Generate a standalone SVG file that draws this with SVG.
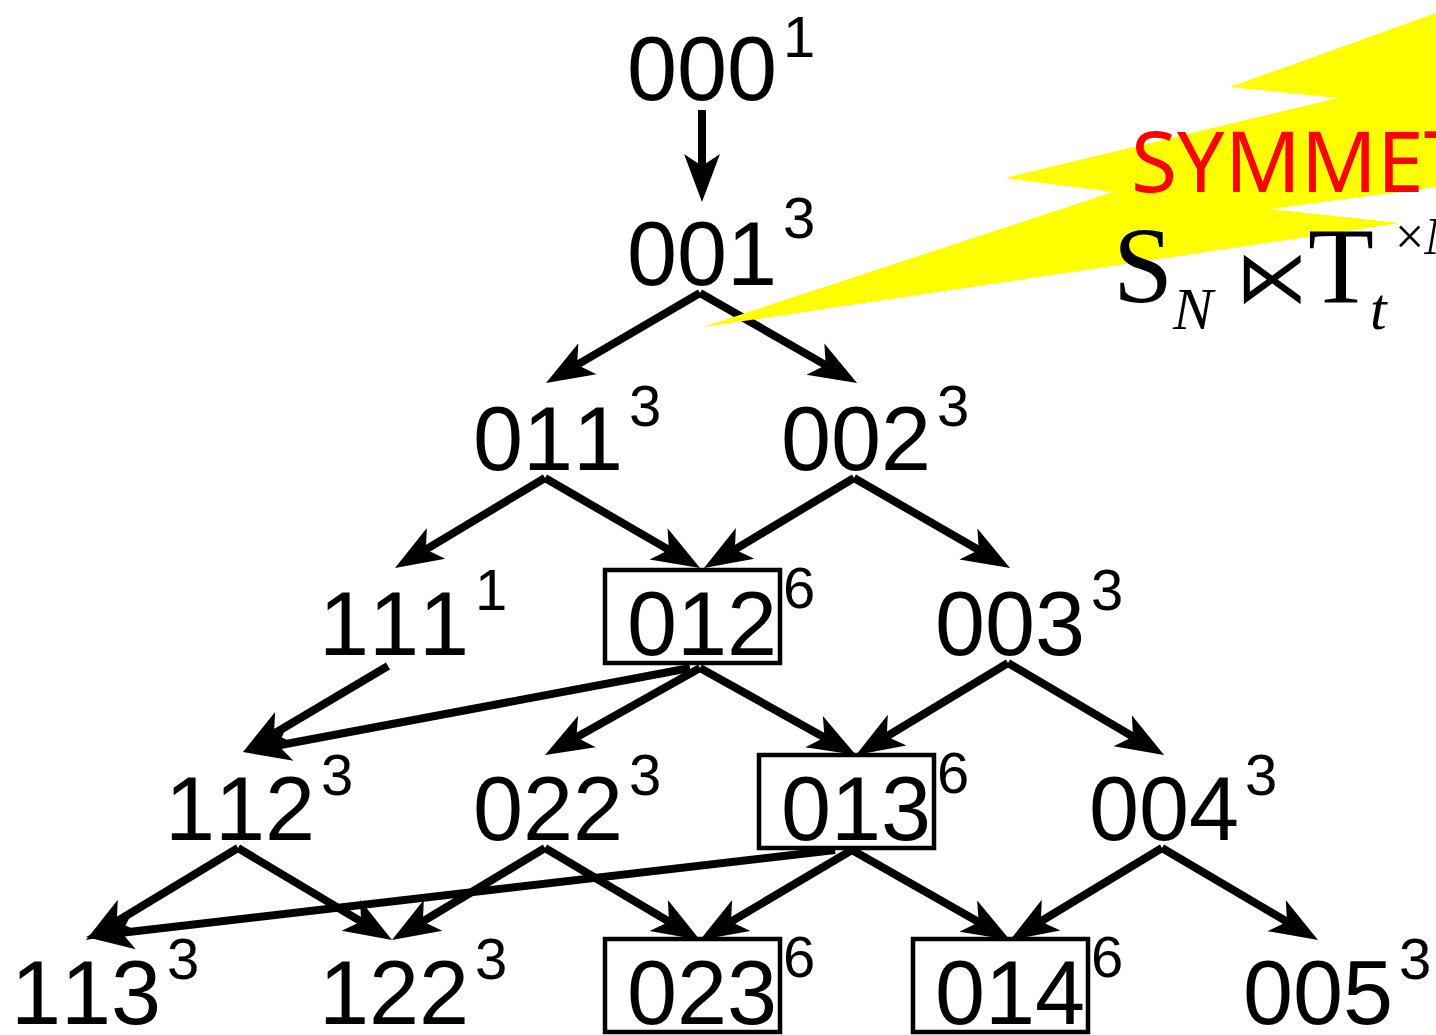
<svg xmlns="http://www.w3.org/2000/svg" width="1436" height="1035" viewBox="0 0 1436 1035">
<style>
.n{font-family:"Liberation Sans",Arial,sans-serif;font-size:90px;fill:#000;font-kerning:none}
.s{font-family:"Liberation Sans",Arial,sans-serif;font-size:58px;fill:#000;font-kerning:none}
.box{fill:none;stroke:#000;stroke-width:4.5}
.c line{stroke:#000;stroke-width:8;marker-end:url(#ah)}
.m{font-family:"Liberation Serif","Times New Roman",serif;fill:#000}
</style>
<defs>
<marker id="ah" markerUnits="userSpaceOnUse" viewBox="0 -22 54 44" markerWidth="54" markerHeight="44" refX="18" refY="0" orient="auto">
<path d="M48,0 L0,-18 L12,0 L0,18 Z" fill="#000"/>
</marker>
</defs>
<rect width="1436" height="1035" fill="#fff"/>
<g class="c" id="connectors">
<line x1="702" y1="110" x2="702" y2="172"/>
<line x1="700" y1="293" x2="571.9" y2="367.9"/>
<line x1="700" y1="293" x2="831" y2="368.1"/>
<line x1="545" y1="478" x2="420.7" y2="552.6"/>
<line x1="545" y1="478" x2="674.1" y2="552.9"/>
<line x1="854" y1="478" x2="729.7" y2="552.6"/>
<line x1="854" y1="478" x2="984" y2="553"/>
<line x1="388" y1="666" x2="268.8" y2="736.7"/>
<line x1="690" y1="668" x2="272.5" y2="746.5"/>
<line x1="700" y1="668" x2="571.2" y2="740.3"/>
<line x1="700" y1="668" x2="829.8" y2="740.4"/>
<line x1="1008" y1="663" x2="881.7" y2="739.5"/>
<line x1="1008" y1="663" x2="1138.2" y2="739.8"/>
<line x1="238" y1="848" x2="111.7" y2="924.5"/>
<line x1="238" y1="848" x2="366.3" y2="924.6"/>
<line x1="545" y1="848" x2="417.7" y2="924.5"/>
<line x1="545" y1="848" x2="674.2" y2="924.7"/>
<line x1="852" y1="850" x2="725.8" y2="924.7"/>
<line x1="852" y1="850" x2="983.9" y2="925.1"/>
<line x1="835" y1="850" x2="115.8" y2="933.5"/>
<line x1="1162" y1="848" x2="1035.7" y2="924.5"/>
<line x1="1162" y1="848" x2="1292.2" y2="924.8"/>
</g>
<g id="n000"><text class="n" x="627" y="100">000</text><text class="s" x="783" y="57">1</text></g>
<g id="n001"><text class="n" x="627" y="285">001</text><text class="s" x="783" y="238">3</text></g>
<g id="n011"><text class="n" x="473" y="470">011</text><text class="s" x="629" y="426">3</text></g>
<g id="n002"><text class="n" x="781" y="470">002</text><text class="s" x="937" y="426">3</text></g>
<g id="n111"><text class="n" x="319" y="655">111</text><text class="s" x="475" y="610">1</text></g>
<g id="n012"><rect class="box" x="605" y="570" width="175" height="93"/><text class="n" x="627" y="655">012</text><text class="s" x="783" y="608">6</text></g>
<g id="n003"><text class="n" x="935" y="655">003</text><text class="s" x="1091" y="610">3</text></g>
<g id="n112"><text class="n" x="165" y="840">112</text><text class="s" x="321" y="795">3</text></g>
<g id="n022"><text class="n" x="473" y="840">022</text><text class="s" x="629" y="795">3</text></g>
<g id="n013"><rect class="box" x="759" y="755" width="175" height="93"/><text class="n" x="781" y="840">013</text><text class="s" x="937" y="793">6</text></g>
<g id="n004"><text class="n" x="1089" y="840">004</text><text class="s" x="1245" y="795">3</text></g>
<g id="n113"><text class="n" x="11" y="1024">113</text><text class="s" x="167" y="979">3</text></g>
<g id="n122"><text class="n" x="319" y="1024">122</text><text class="s" x="475" y="979">3</text></g>
<g id="n023"><rect class="box" x="605" y="939" width="175" height="93"/><text class="n" x="627" y="1024">023</text><text class="s" x="783" y="977">6</text></g>
<g id="n014"><rect class="box" x="913" y="939" width="175" height="93"/><text class="n" x="935" y="1024">014</text><text class="s" x="1091" y="977">6</text></g>
<g id="n005"><text class="n" x="1243" y="1024">005</text><text class="s" x="1399" y="979">3</text></g>
<g id="callout">
<polygon fill="#ffff00" points="703,327 1113,192 1005,178 1338,98 1230,87 1436,13 1436,187 1270,209 1400,223"/>
<text x="1131" y="192" font-family="'Noto Sans','Open Sans',sans-serif" font-size="84" fill="#ff0000">SYMMET</text>
<text class="m" x="1113" y="302" font-size="108">S</text>
<text class="m" x="1173" y="329" font-size="60" font-style="italic">N</text>
<text x="1236" y="302" font-family="'DejaVu Sans','DejaVu Serif',sans-serif" font-size="72" fill="#000">⋉</text>
<text class="m" x="1308" y="302" font-size="108">T</text>
<text class="m" x="1370" y="329" font-size="60" font-style="italic">t</text>
<text class="m" x="1395" y="254" font-size="52">×<tspan font-style="italic">N</tspan></text>
</g>
</svg>
